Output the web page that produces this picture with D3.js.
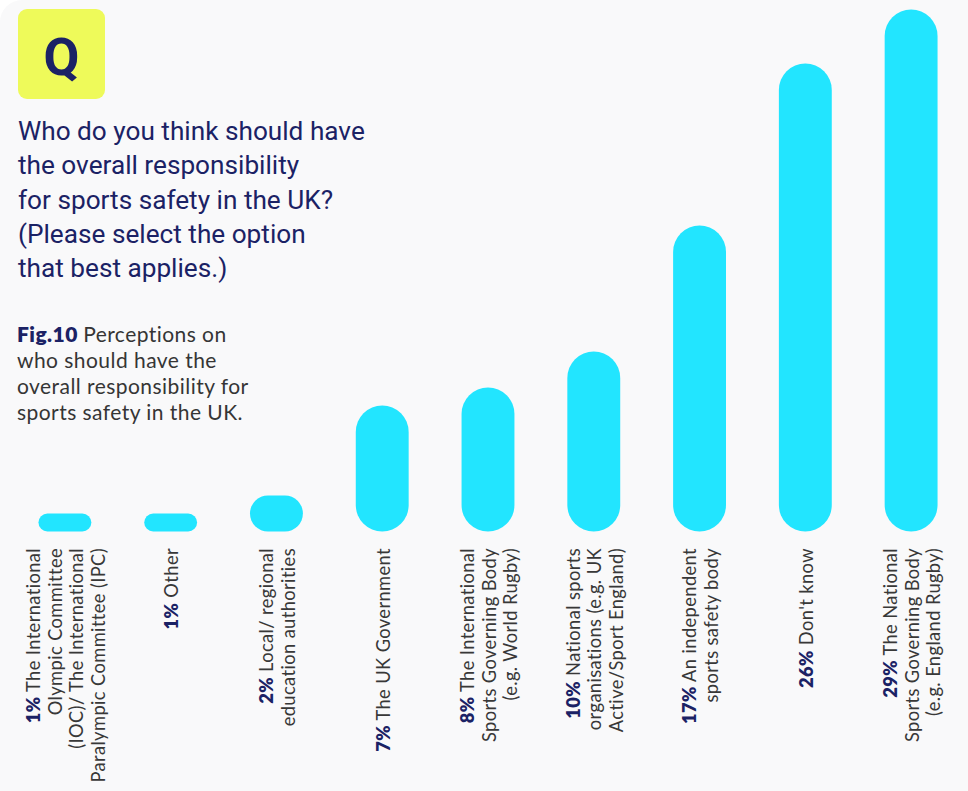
<!DOCTYPE html>
<html>
<head>
<meta charset="utf-8">
<script src="https://cdn.jsdelivr.net/npm/d3@7"></script>
<style>
  html, body { margin: 0; padding: 0; background: #ffffff; }
  svg { display: block; }
</style>
</head>
<body>
<script>
// Survey answers, in the order they are plotted (smallest to largest)
const categories = [
  "The International Olympic Committee (IOC)/ The International Paralympic Committee (IPC)",
  "Other",
  "Local/ regional education authorities",
  "The UK Government",
  "The International Sports Governing Body (e.g. World Rugby)",
  "National sports organisations (e.g. UK Active/Sport England)",
  "An independent sports safety body",
  "Don't know",
  "The National Sports Governing Body (e.g. England Rugby)"
];
const values = [1, 1, 2, 7, 8, 10, 17, 26, 29];

// How each category name is broken into lines under its bar
const labelLines = [
  ["The International", "Olympic Committee", "(IOC)/ The International", "Paralympic Committee (IPC)"],
  ["Other"],
  ["Local/ regional", "education authorities"],
  ["The UK Government"],
  ["The International", "Sports Governing Body", "(e.g. World Rugby)"],
  ["National sports", "organisations (e.g. UK", "Active/Sport England)"],
  ["An independent", "sports safety body"],
  ["Don't know"],
  ["The National", "Sports Governing Body", "(e.g. England Rugby)"]
];

const questionLines = [
  "Who do you think should have",
  "the overall responsibility",
  "for sports safety in the UK?",
  "(Please select the option",
  "that best applies.)"
];
const figLabel = "Fig.10";
const captionLines = [
  "Perceptions on",
  "who should have the",
  "overall responsibility for",
  "sports safety in the UK."
];

const W = 968, H = 791;
const NAVY = "#1b2265";
const CYAN = "#22e5ff";
const BODY_FONT = "Lato, sans-serif";

const svg = d3.select("body").append("svg")
  .attr("width", W).attr("height", H);

// panel background with a rounded top-left corner
svg.append("rect")
  .attr("x", 0).attr("y", 0)
  .attr("width", W + 40).attr("height", H + 40)
  .attr("rx", 22)
  .attr("fill", "#f9f9fa");

// "Q" badge
svg.append("rect")
  .attr("x", 18).attr("y", 9)
  .attr("width", 87).attr("height", 90)
  .attr("rx", 9)
  .attr("fill", "#eefa5a");
svg.append("text")
  .attr("x", 61.5).attr("y", 75)
  .attr("text-anchor", "middle")
  .attr("font-family", "Roboto, sans-serif")
  .attr("font-weight", 700)
  .attr("font-size", 52)
  .attr("fill", NAVY)
  .text("Q");

// question text
const q = svg.append("text")
  .attr("font-family", "Roboto, sans-serif")
  .attr("font-weight", 400)
  .attr("font-size", 26.2)
  .attr("fill", NAVY);
questionLines.forEach((line, i) => {
  q.append("tspan")
    .attr("x", 18)
    .attr("y", 140 + i * 34.3)
    .text(line);
});

// figure caption
const cap = svg.append("text")
  .attr("font-family", BODY_FONT)
  .attr("font-size", 21)
  .attr("letter-spacing", 0.45)
  .attr("fill", "#353535");
captionLines.forEach((line, i) => {
  const t = cap.append("tspan")
    .attr("x", 17)
    .attr("y", 341.5 + i * 26);
  if (i === 0) {
    t.append("tspan").attr("font-weight", 800).attr("fill", NAVY).text(figLabel + " ");
    t.append("tspan").text(line);
  } else {
    t.text(line);
  }
});

// scales
const x = d3.scaleBand()
  .domain(categories)
  .range([12, 964])
  .paddingInner(0.5)
  .paddingOuter(0.25);

const y = d3.scaleLinear()
  .domain([0, 29])
  .range([531.5, 9.5]);

// pill-shaped bars
svg.append("g")
  .selectAll("rect")
  .data(categories)
  .join("rect")
  .attr("x", d => x(d))
  .attr("y", (d, i) => y(values[i]))
  .attr("width", x.bandwidth())
  .attr("height", (d, i) => y(0) - y(values[i]))
  .attr("rx", (d, i) => Math.min(x.bandwidth() / 2, (y(0) - y(values[i])) / 2))
  .attr("fill", CYAN);

// rotated category labels under each bar
const lineStep = 21.5;
const labels = svg.append("g")
  .selectAll("g")
  .data(categories)
  .join("g")
  .attr("transform", d => `translate(${x(d) + x.bandwidth() / 2},548) rotate(-90)`);

labels.each(function (d, i) {
  const lines = labelLines[i];
  const n = lines.length;
  const t = d3.select(this).append("text")
    .attr("text-anchor", "end")
    .attr("font-family", BODY_FONT)
    .attr("font-size", 18.3)
    .attr("letter-spacing", 0.4)
    .attr("fill", "#383838");
  lines.forEach((line, j) => {
    const ts = t.append("tspan")
      .attr("x", 0)
      .attr("y", (j - (n - 1) / 2) * lineStep + 7.5);
    if (j === 0) {
      ts.append("tspan").attr("font-weight", 800).attr("fill", NAVY).text(values[i] + "%");
      ts.append("tspan").text(" " + line);
    } else {
      ts.text(line);
    }
  });
});
</script>
</body>
</html>
